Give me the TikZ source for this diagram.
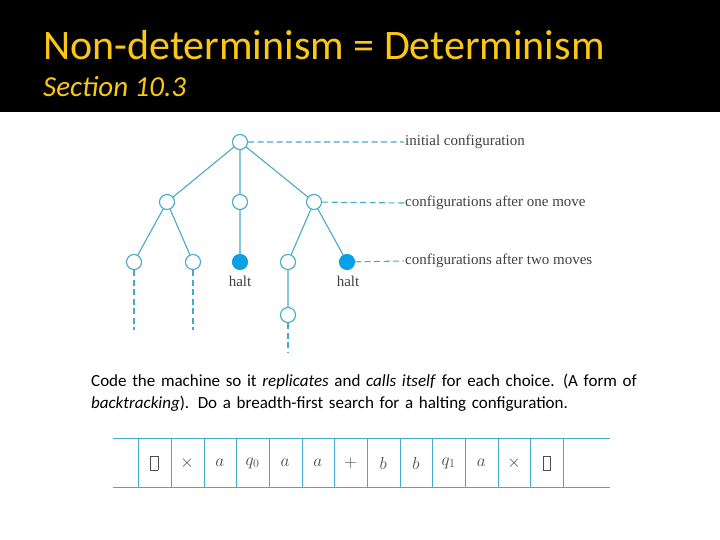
\documentclass[tikz,border=0pt]{standalone}
\usepackage{fontspec}
\setmainfont{Carlito}
\newfontfamily\serifb{Liberation Serif}
\definecolor{tb}{RGB}{70,170,205}
\definecolor{hb}{RGB}{10,160,230}
\definecolor{ttl}{RGB}{250,200,20}
\newcommand\blankcell{{\setlength\fboxsep{0pt}\setlength\fboxrule{0.6pt}\fbox{\rule{0pt}{13pt}\hspace{7pt}}}}
\begin{document}
\begin{tikzpicture}[x=1pt,y=-1pt,
  cfg/.style={circle,draw=tb,fill=white,line width=1.1pt,minimum size=15pt,inner sep=0pt},
  hcfg/.style={circle,draw=hb,fill=hb,line width=1.1pt,minimum size=15pt,inner sep=0pt},
  edge/.style={draw=tb,line width=1.1pt},
  dsh/.style={draw=tb,line width=1.1pt,dash pattern=on 6pt off 3.5pt},
  lbl/.style={font=\serifb\fontsize{15}{17}\selectfont,text=black!75,anchor=west,inner sep=1pt},
  cell/.style={font=\serifb\itshape\fontsize{17}{19}\selectfont}]
\useasboundingbox (0,0) rectangle (720,540);
\fill[white] (0,0) rectangle (720,540);
\fill[black] (0,0) rectangle (720,112);
\node[anchor=west,text=ttl,font=\fontsize{42}{46}\selectfont,inner sep=0pt] (title) at (43,45) {Non-determinism = Determinism};
\node[anchor=west,text=ttl,font=\itshape\fontsize{29}{32}\selectfont,inner sep=0pt] (sub) at (43,87) {Section 10.3};
% tree
\node[cfg] (r) at (240,142) {};
\node[cfg] (a) at (167,202) {};
\node[cfg] (b) at (240,202) {};
\node[cfg] (c) at (314,202) {};
\node[cfg] (a1) at (134,262) {};
\node[cfg] (a2) at (193,262) {};
\node[hcfg] (b1) at (240,262) {};
\node[cfg] (c1) at (288,262) {};
\node[hcfg] (c2) at (347,262) {};
\node[cfg] (c11) at (288,315) {};
\draw[edge] (r)--(a) (r)--(b) (r)--(c) (a)--(a1) (a)--(a2) (b)--(b1) (c)--(c1) (c)--(c2) (c1)--(c11);
\coordinate (e1) at (134,330); \coordinate (e2) at (193,330); \coordinate (e3) at (288,352);
\draw[dsh] (a1)--(e1) (a2)--(e2) (c11)--(e3);
\node[lbl] (l0) at (404,142) {initial configuration};
\node[lbl] (l1) at (404,203) {configurations after one move};
\node[lbl] (l2) at (404,261) {configurations after two moves};
\draw[dsh] (r)--(l0.west) (c)--(l1.west) (c2)--(l2.west);
\node[font=\serifb\fontsize{15}{17}\selectfont,text=black!75] (h1) at (240,281) {halt};
\node[font=\serifb\fontsize{15}{17}\selectfont,text=black!75] (h2) at (348,281) {halt};
% text
\node[anchor=north west,align=left,text width=620pt,font=\fontsize{17}{22}\selectfont,inner sep=0pt] (txt) at (91,374)
 {Code the machine so it \textit{replicates} and \textit{calls itself} for each choice. (A form of\\ \textit{backtracking}). Do a breadth-first search for a halting configuration.};
% tape
\draw[tb,line width=0.9pt] (113,438) -- (610,438) (113,487) -- (610,487);
\foreach \x in {138,171,204,236,269,302,334,367,400,432,465,498,530,563}
  \draw[tb,line width=0.8pt] (\x,438) -- (\x,487);
\foreach \s [count=\i] in {{\blankcell},{$\times$},{$a$},{$q_0$},{$a$},{$a$},{$+$},{$b$},{$b$},{$q_1$},{$a$},{$\times$},{\blankcell}}
  \node[cell,text=black!70] (t\i) at ({138+32.7*(\i-0.5)},463) {\s};
\end{tikzpicture}
\end{document}
